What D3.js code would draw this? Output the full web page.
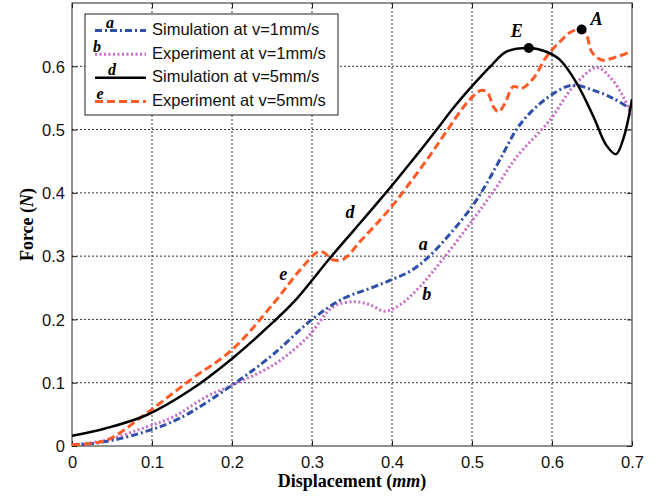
<!DOCTYPE html>
<html><head><meta charset="utf-8">
<script src="https://cdn.jsdelivr.net/npm/d3@7"></script>
<style>
html,body{margin:0;padding:0;background:#fff;}
svg{display:block;}
</style></head>
<body>
<svg id="chart" width="666" height="497"></svg>
<script>
// ---- data ----
const xTicks = [0, 0.1, 0.2, 0.3, 0.4, 0.5, 0.6, 0.7];
const yTicks = [0, 0.1, 0.2, 0.3, 0.4, 0.5, 0.6];
const xTickLabels = ["0", "0.1", "0.2", "0.3", "0.4", "0.5", "0.6", "0.7"];
const yTickLabels = ["0", "0.1", "0.2", "0.3", "0.4", "0.5", "0.6"];
const seriesNames = ["Simulation at v=1mm/s", "Experiment at v=1mm/s", "Simulation at v=5mm/s", "Experiment at v=5mm/s"];
const seriesTags = ["a", "b", "d", "e"];

// a: simulation at 1 mm/s
const simSlowX = [0, 0.0425, 0.0925, 0.135, 0.2, 0.2517, 0.3, 0.339, 0.3725, 0.4, 0.4225, 0.4434, 0.4725, 0.5009, 0.5184, 0.536, 0.56, 0.593, 0.625, 0.652, 0.677, 0.7];
const simSlowY = [0.001, 0.007, 0.023, 0.044, 0.096, 0.145, 0.200, 0.233, 0.249, 0.263, 0.276, 0.296, 0.335, 0.380, 0.415, 0.455, 0.508, 0.549, 0.570, 0.562, 0.549, 0.531];
// b: experiment at 1 mm/s
const expSlowX = [0, 0.0425, 0.0925, 0.1267, 0.168, 0.2, 0.2517, 0.293, 0.3267, 0.354, 0.3725, 0.391, 0.41, 0.435, 0.464, 0.5009, 0.5309, 0.5559, 0.5975, 0.6267, 0.6559, 0.6725, 0.689, 0.7];
const expSlowY = [0.002, 0.009, 0.030, 0.046, 0.078, 0.096, 0.128, 0.170, 0.220, 0.228, 0.223, 0.213, 0.223, 0.252, 0.296, 0.357, 0.410, 0.457, 0.515, 0.568, 0.598, 0.583, 0.552, 0.520];
// d: simulation at 5 mm/s
const simFastX = [0, 0.0425, 0.0934, 0.1475, 0.2, 0.2517, 0.279, 0.3225, 0.3517, 0.3809, 0.4079, 0.431, 0.456, 0.4766, 0.4975, 0.5225, 0.543, 0.571, 0.593, 0.61, 0.631, 0.652, 0.668, 0.68, 0.69, 0.7];
const simFastY = [0.016, 0.028, 0.049, 0.088, 0.138, 0.196, 0.230, 0.297, 0.340, 0.383, 0.424, 0.460, 0.500, 0.534, 0.565, 0.599, 0.623, 0.629, 0.623, 0.610, 0.573, 0.520, 0.475, 0.461, 0.489, 0.548];
// e: experiment at 5 mm/s
const expFastX = [0, 0.0425, 0.0934, 0.1475, 0.2, 0.2517, 0.285, 0.3079, 0.316, 0.3246, 0.339, 0.36, 0.385, 0.4058, 0.4266, 0.448, 0.468, 0.4975, 0.512, 0.52, 0.5267, 0.533, 0.541, 0.5517, 0.562, 0.5767, 0.593, 0.61, 0.6246, 0.637, 0.6433, 0.6496, 0.662, 0.681, 0.7];
const expFastY = [0.002, 0.009, 0.052, 0.104, 0.152, 0.225, 0.278, 0.307, 0.305, 0.295, 0.295, 0.323, 0.357, 0.388, 0.423, 0.460, 0.497, 0.548, 0.562, 0.557, 0.536, 0.528, 0.541, 0.568, 0.565, 0.581, 0.615, 0.639, 0.655, 0.658, 0.649, 0.623, 0.610, 0.615, 0.624];

// point markers
const markerNames = ["E", "A"];
const markerX = [0.571, 0.637];
const markerY = [0.629, 0.658];

// ---- layout ----
const svg = d3.select("#chart");
const L = 72, R = 632, T = 3, B = 446;
const x = d3.scaleLinear().domain([0, 0.7]).range([L, R]);
const y = d3.scaleLinear().domain([0, 0.7]).range([B, T]);
const sansFont = "'Liberation Sans', Arial, Helvetica, sans-serif";
const serifFont = "'Liberation Serif', 'Times New Roman', Times, serif";

// grid
const grid = svg.append("g");
grid.selectAll("line.vx").data(xTicks.slice(1, -1)).enter().append("line")
  .attr("x1", d => x(d)).attr("x2", d => x(d)).attr("y1", T).attr("y2", B)
  .attr("stroke", "#333").attr("stroke-width", 1).attr("stroke-dasharray", "2,2");
grid.selectAll("line.hy").data(yTicks.slice(1)).enter().append("line")
  .attr("x1", L).attr("x2", R).attr("y1", d => y(d)).attr("y2", d => y(d))
  .attr("stroke", "#333").attr("stroke-width", 1).attr("stroke-dasharray", "2,2");

// axes (inward ticks)
const axB = svg.append("g").attr("transform", `translate(0,${B})`)
  .call(d3.axisBottom(x).tickValues(xTicks).tickFormat((d, i) => xTickLabels[i]).tickSizeInner(-5).tickSizeOuter(0).tickPadding(10));
const axL = svg.append("g").attr("transform", `translate(${L},0)`)
  .call(d3.axisLeft(y).tickValues(yTicks).tickFormat((d, i) => yTickLabels[i]).tickSizeInner(-5).tickSizeOuter(0).tickPadding(7));
const axT = svg.append("g").attr("transform", `translate(0,${T})`)
  .call(d3.axisTop(x).tickValues(xTicks).tickFormat("").tickSizeInner(-5).tickSizeOuter(0));
const axR = svg.append("g").attr("transform", `translate(${R},0)`)
  .call(d3.axisRight(y).tickValues(yTicks).tickFormat("").tickSizeInner(-5).tickSizeOuter(0));
[axB, axL, axT, axR].forEach(g => {
  g.select(".domain").remove();
  g.selectAll("line").attr("stroke", "#222");
  g.selectAll("text").attr("font-family", sansFont).attr("font-size", "16.5px").attr("fill", "#111");
});
axL.selectAll("text").attr("dy", "0.35em");
svg.append("rect").attr("x", L).attr("y", T).attr("width", R - L).attr("height", B - T)
  .attr("fill", "none").attr("stroke", "#222").attr("stroke-width", 1);

// series
const styles = [
  {color: "#2F4FA8", width: 3, dash: "7,3,2,3"},
  {color: "#C96BC9", width: 3, dash: "2,2.5"},
  {color: "#000000", width: 2.5, dash: null},
  {color: "#FF5A26", width: 3, dash: "8,4"}
];
const seriesX = [simSlowX, expSlowX, simFastX, expFastX];
const seriesY = [simSlowY, expSlowY, simFastY, expFastY];
const line = d3.line().x(d => x(d[0])).y(d => y(d[1])).curve(d3.curveCatmullRom.alpha(0.5));
const clip = svg.append("clipPath").attr("id", "clip").append("rect")
  .attr("x", L).attr("y", T).attr("width", R - L).attr("height", B - T);
const drawOrder = [1, 0, 3, 2];
drawOrder.forEach(i => {
  const pts = seriesX[i].map((v, j) => [v, seriesY[i][j]]);
  svg.append("path").datum(pts).attr("d", line)
    .attr("clip-path", "url(#clip)")
    .attr("fill", "none").attr("stroke", styles[i].color)
    .attr("stroke-width", styles[i].width)
    .attr("stroke-dasharray", styles[i].dash)
    .attr("stroke-linejoin", "round");
});

// markers
svg.selectAll("circle.mk").data(markerX).enter().append("circle")
  .attr("cx", d => x(d)).attr("cy", (d, i) => y(markerY[i])).attr("r", 5).attr("fill", "#000");
const mkOffsets = [[-12, -17], [15, -11]];
svg.selectAll("text.mk").data(markerNames).enter().append("text")
  .attr("x", (d, i) => x(markerX[i]) + mkOffsets[i][0])
  .attr("y", (d, i) => y(markerY[i]) + mkOffsets[i][1])
  .attr("text-anchor", "middle").attr("dy", "0.35em")
  .attr("font-family", serifFont).attr("font-style", "italic").attr("font-weight", "bold")
  .attr("font-size", "18px").text(d => d);

// curve tag labels
const tagPos = [[0.439, 0.32], [0.4434, 0.241], [0.3475, 0.37], [0.264, 0.273]];
svg.selectAll("text.tag").data(seriesTags).enter().append("text")
  .attr("x", (d, i) => x(tagPos[i][0])).attr("y", (d, i) => y(tagPos[i][1]))
  .attr("text-anchor", "middle").attr("dy", "0.35em")
  .attr("font-family", serifFont).attr("font-style", "italic").attr("font-weight", "bold")
  .attr("font-size", "18px").text(d => d);

// legend
const lg = svg.append("g");
lg.append("rect").attr("x", 85).attr("y", 14).attr("width", 253).attr("height", 101)
  .attr("fill", "#fff").attr("stroke", "#222").attr("stroke-width", 1);
const rowY = [29.5, 53.3, 76.7, 100.5];
const tagX = [110, 97, 112, 100];
seriesNames.forEach((name, i) => {
  lg.append("line").attr("x1", 95).attr("x2", 146).attr("y1", rowY[i] + 1).attr("y2", rowY[i] + 1)
    .attr("stroke", styles[i].color).attr("stroke-width", styles[i].width)
    .attr("stroke-dasharray", styles[i].dash);
  lg.append("text").attr("x", tagX[i]).attr("y", rowY[i] - 7)
    .attr("text-anchor", "middle").attr("dy", "0.35em")
    .attr("font-family", serifFont).attr("font-style", "italic").attr("font-weight", "bold")
    .attr("font-size", "16px").text(seriesTags[i]);
  lg.append("text").attr("x", 152).attr("y", rowY[i]).attr("dy", "0.35em")
    .attr("font-family", sansFont).attr("font-size", "16.5px").attr("fill", "#111").text(name);
});

// axis titles
const xt = svg.append("text").attr("x", (L + R) / 2).attr("y", 487).attr("text-anchor", "middle")
  .attr("font-family", serifFont).attr("font-weight", "bold").attr("font-size", "18px");
xt.append("tspan").text("Displacement (");
xt.append("tspan").attr("font-style", "italic").text("mm");
xt.append("tspan").text(")");
const yt = svg.append("text").attr("transform", `translate(33,${(T + B) / 2}) rotate(-90)`)
  .attr("text-anchor", "middle")
  .attr("font-family", serifFont).attr("font-weight", "bold").attr("font-size", "18px");
yt.append("tspan").text("Force (");
yt.append("tspan").attr("font-style", "italic").text("N");
yt.append("tspan").text(")");
</script>
</body></html>
